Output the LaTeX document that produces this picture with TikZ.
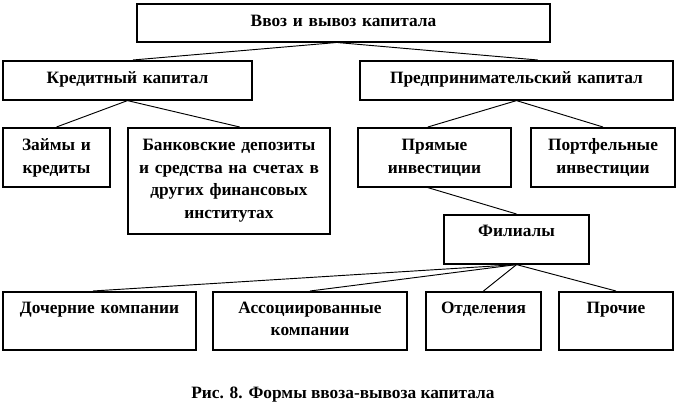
\documentclass[tikz,border=0pt]{standalone}
\usepackage{fontspec}
\setmainfont{Liberation Serif}
\usepackage{tikz}

\begin{document}
\begin{tikzpicture}[x=0.75pt,y=-0.75pt,
		blk/.style={draw, line width=1.2pt, anchor=north, align=center, inner sep=0pt, text height=17pt, font=\bfseries\fontsize{13}{17}\selectfont},
		link/.style={line width=0.7pt}]
			\useasboundingbox (0,0) rectangle (678,418);
			\node[blk, text width=309.75pt, text depth=11.5pt] at (343.5,3) (top){Ввоз и вывоз капитала};
			\node[blk, text width=186.75pt, text depth=12.25pt] at (127.5,60) (kred){Кредитный капитал};
			\node[blk, text width=234.75pt, text depth=12.25pt] at (516.5,60) (pred){Предпринимательский капитал};
			\node[blk, text width=80.25pt, text depth=27.25pt] at (56.5,127) (zaim){Займы и\\кредиты};
			\node[blk, text width=151.5pt, text depth=62.5pt] at (229,127) (bank){Банковские депозиты\\и средства на счетах в\\других финансовых\\институтах};
			\node[blk, text width=114.75pt, text depth=27.25pt] at (434.5,127) (pryam){Прямые\\инвестиции};
			\node[blk, text width=108pt, text depth=27.25pt] at (603,127) (portf){Портфельные\\инвестиции};
			\node[blk, text width=108.75pt, text height=16pt, text depth=20.75pt] at (516.5,214) (fil){Филиалы};
			\node[blk, text width=144.75pt, text height=16pt, text depth=27.5pt] at (99.5,291) (doch){Дочерние компании};
			\node[blk, text width=145.5pt, text height=16pt, text depth=27.5pt] at (310,291) (assoc){Ассоциированные\\компании};
			\node[blk, text width=86.25pt, text height=16pt, text depth=27.5pt] at (483.5,291) (otd){Отделения};
			\node[blk, text width=85.5pt, text height=16pt, text depth=27.5pt] at (616,291) (proch){Прочие};
			\node[font=\bfseries\fontsize{13}{17}\selectfont] at (343,395) (caption){Рис. 8. Формы ввоза-вывоза капитала};
			\draw[link] ([xshift=-6pt]top.south) -- ([xshift=4pt]kred.north);
			\draw[link] ([xshift=-4pt]top.south) -- ([xshift=16pt]pred.north);
			\draw[link] (kred.south) -- (zaim.north);
			\draw[link] (kred.south) -- ([xshift=8pt]bank.north);
			\draw[link] (pred.south) -- ([xshift=-5pt]pryam.north);
			\draw[link] (pred.south) -- (portf.north);
			\draw[link] ([xshift=-5pt]pryam.south) -- (fil.north);
			\draw[link] (fil.south) -- ([xshift=-5pt]doch.north);
			\draw[link] (fil.south) -- (assoc.north);
			\draw[link] (fil.south) -- (otd.north);
			\draw[link] (fil.south) -- (proch.north);
		\end{tikzpicture}
\end{document}
